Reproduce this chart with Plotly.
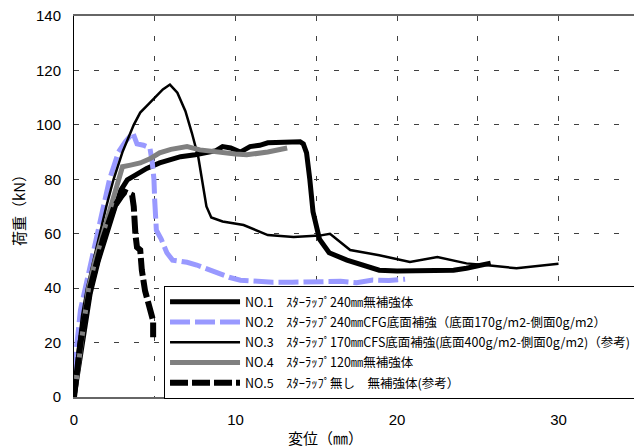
import plotly.graph_objects as go

# ---- data ----
names = [
    "NO.1　ｽﾀｰﾗｯﾌﾟ240㎜無補強体",
    "NO.2　ｽﾀｰﾗｯﾌﾟ240㎜CFG底面補強（底面170g/m2-側面0g/m2）",
    "NO.3　ｽﾀｰﾗｯﾌﾟ170㎜CFS底面補強(底面400g/m2-側面0g/m2)（参考)",
    "NO.4　ｽﾀｰﾗｯﾌﾟ120㎜無補強体",
    "NO.5　ｽﾀｰﾗｯﾌﾟ無し　無補強体(参考）",
]

no1_x = [0, 0.3, 0.7, 1.0, 1.5, 2.0, 2.5, 2.9, 3.3, 3.8, 4.5, 5.3, 6.0, 6.6, 7.5, 8.2, 8.8, 9.2, 9.7,
         10.3, 10.9, 11.5, 12.0, 13.0, 14.0, 14.2, 14.4, 14.6, 14.8, 15.2, 15.8, 16.9, 18.0, 18.9,
         20.0, 22.0, 23.5, 24.3, 25.0, 25.8]
no1_y = [0, 12, 28, 38, 50, 60, 69, 76, 79.8, 81.5, 84, 86, 87.5, 88.3, 89, 90, 90.5, 92, 91.5,
         90, 92, 92.5, 93.4, 93.6, 93.8, 93, 89.7, 80, 68, 58, 53, 50.3, 48, 46.6,
         46.3, 46.3, 46.6, 47.3, 48, 49.2]

no2_x = [0, 0.1, 0.4, 0.7, 1.0, 1.4, 1.8, 2.2, 2.75, 3.2, 3.65, 3.9, 4.3, 4.7, 4.85, 4.95, 5.0, 5.05,
         5.1, 5.4, 5.75, 6.1, 7.0, 7.6, 8.3, 8.85, 9.6, 10.3, 11.3, 12.3, 13.5, 15.2, 16.5, 17.5,
         18.5, 19.5, 20.5]
no2_y = [0, 15, 32, 40, 50, 60, 70, 80, 90, 94, 97, 93, 92.5, 91.5, 86, 80, 72, 65,
         61.3, 58, 53, 50.3, 49.5, 48.5, 47, 45.5, 44, 42.9, 42.5, 42.2, 42.2, 42.2, 42.5, 42,
         43, 42.8, 43.3]

no3_x = [0, 0.2, 0.5, 0.8, 1.2, 1.6, 2.0, 2.45, 3.0, 3.7, 4.1, 4.6, 5.1, 5.5, 5.94, 6.4, 6.9, 7.3,
         7.7, 8.0, 8.2, 8.5, 9.2, 10.5, 12.0, 13.6, 15.2, 15.85, 17.1, 18.9, 20.8, 22.5, 24.3,
         25.6, 27.4, 30.0]
no3_y = [0, 15, 30, 40, 50, 60, 70, 80, 90, 100, 104.5, 107.5, 110.4, 113, 114.8, 111.8, 105, 97,
         88, 78, 70, 66, 64.5, 63.2, 59.5, 58.8, 59.3, 60, 54, 52.1, 49.6, 51.4, 49.1,
         48.4, 47.3, 49.0]

no4_x = [0, 0.3, 0.6, 0.9, 1.3, 1.8, 2.2, 2.6, 3.0, 3.5, 4.1, 4.7, 5.3, 6.0, 6.6, 7.0, 7.8, 8.5,
         9.2, 10.0, 10.7, 12.0, 13.2]
no4_y = [0, 13, 28, 40, 50, 60, 68, 75, 84.6, 85.2, 86, 87.5, 89.7, 91, 91.8, 92, 90.8, 90.2,
         89.7, 89.3, 89, 90, 91.5]

no5_x = [0, 0.4, 1.0, 1.4, 1.8, 2.2, 2.5, 2.9, 3.15, 3.6, 3.7, 3.8, 3.9, 4.1, 4.2, 4.4, 4.7, 4.9, 4.9]
no5_y = [0, 20, 40, 50, 58, 65, 70, 73.5, 75.4, 74.2, 70, 60, 55, 54, 46.6, 39, 33, 28, 22]

fig = go.Figure()
fig.add_trace(go.Scatter(x=no1_x, y=no1_y, name=names[0], mode="lines", legendgroup="1",
                         line=dict(color="black", width=5)))
fig.add_trace(go.Scatter(x=no2_x, y=no2_y, name=names[1], mode="lines", legendgroup="2",
                         line=dict(color="#9999FF", width=5, dash="20px,5px")))
fig.add_trace(go.Scatter(x=no3_x, y=no3_y, name=names[2], mode="lines", legendgroup="3",
                         line=dict(color="black", width=2.5)))
fig.add_trace(go.Scatter(x=no4_x, y=no4_y, name=names[3], mode="lines", legendgroup="4",
                         line=dict(color="#808080", width=5)))
fig.add_trace(go.Scatter(x=no5_x, y=no5_y, name=names[4], mode="lines", legendgroup="5",
                         line=dict(color="black", width=6, dash="18px,4px")))

grid_col = "#404040"
fig.update_layout(
    width=634, height=439,
    margin=dict(l=66, r=0, t=8, b=50),
    plot_bgcolor="white", paper_bgcolor="white",
    xaxis=dict(range=[0, 35.17], tick0=0, dtick=10, showgrid=True, gridcolor=grid_col,
               griddash="5px,15px", zeroline=False, showline=True, mirror=True,
               linecolor="#666666", linewidth=1.5,
               ticks="outside", ticklen=8, tickcolor="white",
               tickfont=dict(family="Liberation Sans, Arial, sans-serif", size=15, color="black"),
               minor=dict(dtick=5, showgrid=True, gridcolor=grid_col, griddash="5px,15px")),
    yaxis=dict(range=[0, 140], tick0=0, dtick=20, showgrid=True, gridcolor=grid_col,
               griddash="5px,15px", zeroline=False, showline=True,
               linecolor="black", linewidth=1,
               ticks="outside", ticklen=9, tickcolor="white", ticklabeloverflow="allow",
               tickfont=dict(family="Liberation Sans, Arial, sans-serif", size=15, color="black"),
               title=dict(text="荷重（kN）",
                          font=dict(family="Noto Sans CJK JP", size=15, color="black"))),
    legend=dict(x=0.1585, y=0.291, xanchor="left", yanchor="top", bgcolor="white",
                bordercolor="black", borderwidth=1, tracegroupgap=1, itemwidth=70,
                font=dict(family="Noto Sans CJK JP", size=12.5, color="black")),
    annotations=[dict(text="変位（㎜）", xref="paper", yref="paper", x=0.442,
                      y=-0.105, xanchor="center", yanchor="middle", showarrow=False,
                      font=dict(family="Noto Sans CJK JP", size=15, color="black"))],
)

fig.write_html("out.html")
